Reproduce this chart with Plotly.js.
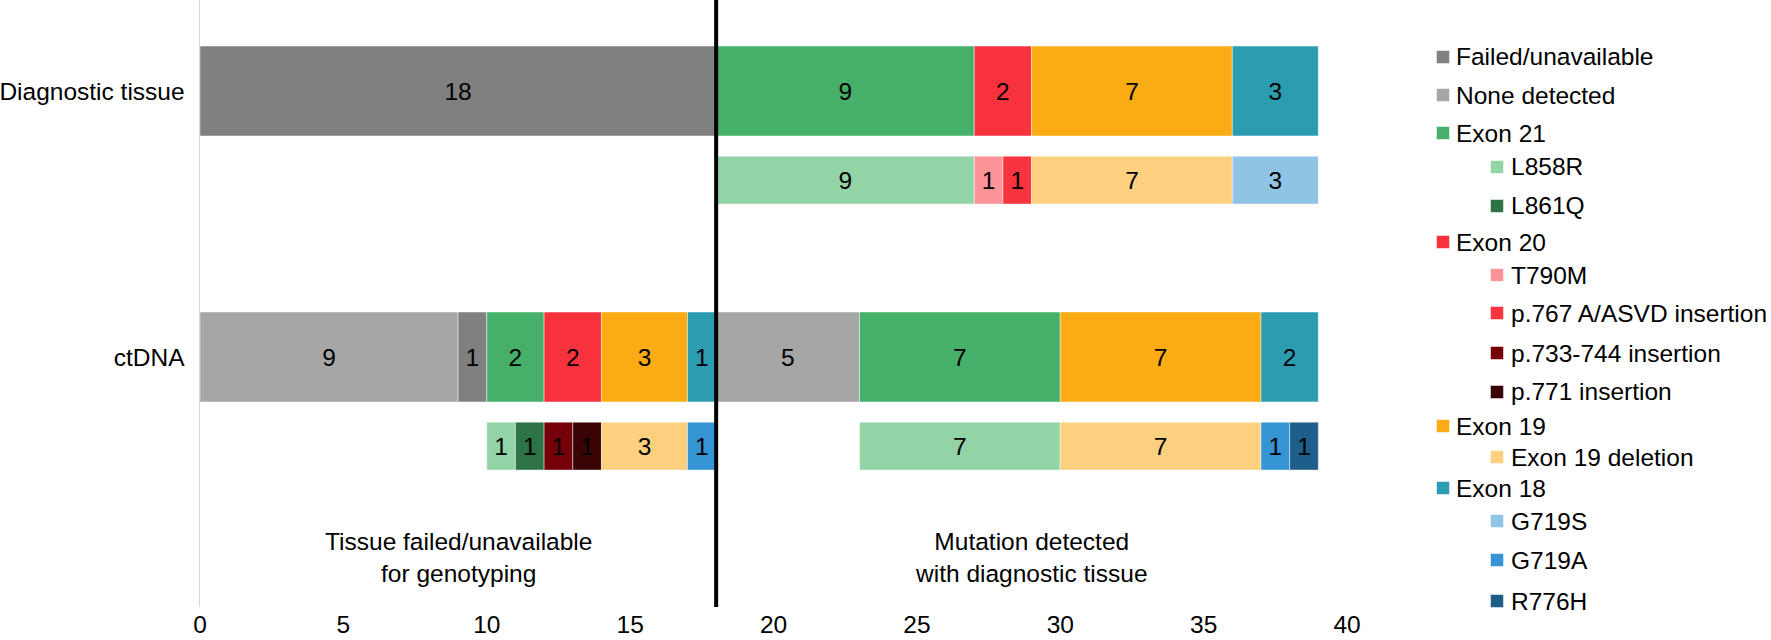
<!DOCTYPE html>
<html>
<head>
<meta charset="utf-8">
<script src="https://cdn.plot.ly/plotly-3.0.1.min.js"></script>
<style>html,body{margin:0;padding:0;background:#fff;}#chart{width:1771px;height:640px;}</style>
</head>
<body>
<div id="chart"></div>
<script>
// ---------- DATA ----------
const rowLabels = ["Diagnostic tissue", "ctDNA"];

const legendCategories = ["Failed/unavailable", "None detected", "Exon 21", "L858R", "L861Q",
  "Exon 20", "T790M", "p.767 A/ASVD insertion", "p.733-744 insertion", "p.771 insertion",
  "Exon 19", "Exon 19 deletion", "Exon 18", "G719S", "G719A", "R776H"];
const topLevelCategories = ["Failed/unavailable", "None detected", "Exon 21", "Exon 20", "Exon 19", "Exon 18"];

// Diagnostic tissue: main bar and variant bar (null = empty gap)
const diagTissueSegments = ["Failed/unavailable", "Exon 21", "Exon 20", "Exon 19", "Exon 18"];
const diagTissueCounts   = [18, 9, 2, 7, 3];
const diagVariantSegments = [null, "L858R", "T790M", "p.767 A/ASVD insertion", "Exon 19 deletion", "G719S"];
const diagVariantCounts   = [18, 9, 1, 1, 7, 3];

// ctDNA: main bar and variant bar
const ctdnaSegments = ["None detected", "Failed/unavailable", "Exon 21", "Exon 20", "Exon 19", "Exon 18",
  "None detected", "Exon 21", "Exon 19", "Exon 18"];
const ctdnaCounts   = [9, 1, 2, 2, 3, 1, 5, 7, 7, 2];
const ctdnaVariantSegments = [null, "L858R", "L861Q", "p.733-744 insertion", "p.771 insertion", "Exon 19 deletion", "G719A",
  null, "L858R", "Exon 19 deletion", "G719A", "R776H"];
const ctdnaVariantCounts   = [10, 1, 1, 1, 1, 3, 1, 5, 7, 7, 1, 1];

const groupLabels = ["Tissue failed/unavailable<br>for genotyping", "Mutation detected<br>with diagnostic tissue"];
const xTicks = [0, 5, 10, 15, 20, 25, 30, 35, 40];

// ---------- STYLE ----------
const colorOf = {
  "Failed/unavailable": "#808080",
  "None detected": "#a6a6a6",
  "Exon 21": "#46b06b",
  "L858R": "#93d4a7",
  "L861Q": "#2d7346",
  "Exon 20": "#f8323c",
  "T790M": "#fa9499",
  "p.767 A/ASVD insertion": "#f8353f",
  "p.733-744 insertion": "#740009",
  "p.771 insertion": "#3a0305",
  "Exon 19": "#fbab14",
  "Exon 19 deletion": "#fdd080",
  "Exon 18": "#2c9db1",
  "G719S": "#8fc4e5",
  "G719A": "#3595d4",
  "R776H": "#1f5e8b"
};
const FONT = "Liberation Sans, Arial, Helvetica, sans-serif";
const FS = 24.5;
const W = 1771, H = 640;
const M = {l: 200, r: 424, t: 0, b: 33, pad: 0};
const mainWidth = 0.338, subWidth = 0.18, subCenter = 0.335;
const rowStepPx = 266, firstRowPx = 91;

// legend layout (pixel positions)
const legendY = [57, 95, 133, 167, 206, 242, 275, 313, 353, 392, 426, 457, 488, 521, 560, 601];
const legendMarkerX = {top: 1443, sub: 1497};
const legendTextX = {top: 1454, sub: 1509};

// ---------- BUILD ----------
function buildTrace(row, segs, counts, width, center) {
  let start = 0;
  const xs = [], bases = [], cols = [], texts = [];
  segs.forEach((s, i) => {
    if (s) {
      xs.push(counts[i]); bases.push(start); cols.push(colorOf[s]); texts.push(String(counts[i]));
    }
    start += counts[i];
  });
  return {
    type: 'bar', orientation: 'h',
    y: xs.map(() => row), x: xs, base: bases,
    width: width, offset: center - width / 2,
    marker: {color: cols, line: {color: 'rgba(255,255,255,0.45)', width: 1}},
    text: texts, textposition: 'inside', insidetextanchor: 'middle', textangle: 0,
    textfont: {family: FONT, size: FS, color: '#000'},
    constraintext: 'none',
    hoverinfo: 'skip', showlegend: false
  };
}

const traces = [
  buildTrace(rowLabels[0], diagTissueSegments, diagTissueCounts, mainWidth, 0),
  buildTrace(rowLabels[0], diagVariantSegments, diagVariantCounts, subWidth, subCenter),
  buildTrace(rowLabels[1], ctdnaSegments, ctdnaCounts, mainWidth, 0),
  buildTrace(rowLabels[1], ctdnaVariantSegments, ctdnaVariantCounts, subWidth, subCenter)
];

const plotW = W - M.l - M.r, plotH = H - M.t - M.b;
const px2x = p => (p - M.l) / plotW;
const px2y = p => 1 - (p - M.t) / plotH;
const xMax = xTicks[xTicks.length - 1];

const shapes = [];
const annotations = [];

// divider between tissue-failed and mutation-detected groups
const divider = diagTissueCounts[0];
shapes.push({type: 'line', xref: 'x', yref: 'paper', x0: divider, x1: divider, y0: 0, y1: 1,
  line: {color: '#000', width: 4}, layer: 'above'});

// group labels, centred in each section
[[0, divider], [divider, xMax]].forEach((sec, i) => {
  annotations.push({xref: 'x', yref: 'paper', x: (sec[0] + sec[1]) / 2, y: px2y(557), text: groupLabels[i],
    showarrow: false, font: {family: FONT, size: FS, color: '#000'}, align: 'center',
    xanchor: 'center', yanchor: 'middle'});
});

// custom indented legend
legendCategories.forEach((cat, i) => {
  const lvl = topLevelCategories.includes(cat) ? 'top' : 'sub';
  const col = colorOf[cat];
  shapes.push({type: 'rect', xref: 'paper', yref: 'paper',
    xsizemode: 'pixel', ysizemode: 'pixel',
    xanchor: px2x(legendMarkerX[lvl]), yanchor: px2y(legendY[i]),
    x0: -6.5, x1: 6.5, y0: -6.5, y1: 6.5,
    fillcolor: col, line: {color: 'rgba(255,255,255,0.5)', width: 1}});
  annotations.push({xref: 'paper', yref: 'paper', x: px2x(legendTextX[lvl]), y: px2y(legendY[i]),
    text: cat, showarrow: false, xanchor: 'left', yanchor: 'middle',
    font: {family: FONT, size: FS, color: '#000'}});
});

const layout = {
  width: W, height: H, margin: M,
  paper_bgcolor: '#fff', plot_bgcolor: '#fff',
  barmode: 'overlay',
  font: {family: FONT, size: FS, color: '#000'},
  xaxis: {range: [0, xMax], tickvals: xTicks, ticktext: xTicks.map(String),
    showgrid: false, zeroline: false, showline: false,
    ticks: '', tickfont: {family: FONT, size: FS, color: '#000'}, fixedrange: true},
  yaxis: {type: 'category', categoryorder: 'array', categoryarray: rowLabels,
    range: [(plotH - firstRowPx) / rowStepPx, -firstRowPx / rowStepPx],
    showgrid: false, zeroline: false, showline: true, linecolor: '#d9d9d9', linewidth: 1.5,
    ticks: 'outside', ticklen: 9, tickcolor: 'rgba(0,0,0,0)',
    tickfont: {family: FONT, size: FS, color: '#000'}, fixedrange: true},
  shapes: shapes,
  annotations: annotations,
  showlegend: false
};

Plotly.newPlot('chart', traces, layout, {staticPlot: true, displayModeBar: false});
</script>
</body>
</html>
